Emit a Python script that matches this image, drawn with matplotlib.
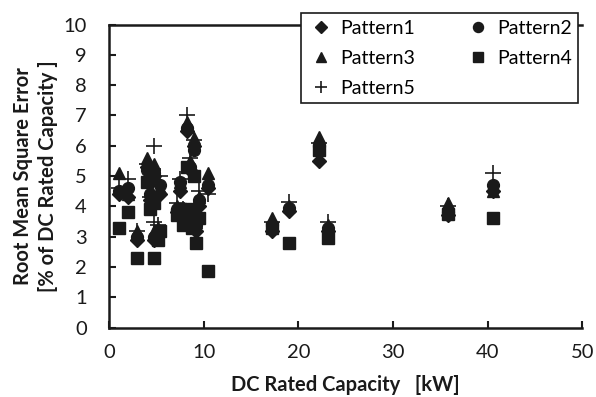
import matplotlib
matplotlib.use("Agg")
import matplotlib.pyplot as plt

# DC rated capacity of each site [kW]
capacity = [1.0, 2.0, 3.0, 4.0, 4.3, 4.7, 4.8, 5.2, 5.4, 7.2, 7.5, 7.8, 8.2, 8.5,
            8.8, 9.0, 9.2, 9.5, 10.5, 17.2, 19.0, 22.2, 23.1, 35.8, 40.6]

# RMSE [% of DC rated capacity] for each pattern
pattern1 = [4.4, 4.3, 2.9, 5.3, 4.2, 5.0, 2.9, 3.1, 4.4, 3.8, 4.5, 3.6, 6.5, 5.2,
            3.5, 6.0, 3.2, 4.0, 4.6, 3.2, 3.85, 5.5, 3.2, 3.7, 4.5]
pattern2 = [4.5, 4.6, 3.0, 5.2, 4.4, 5.1, 3.0, 3.2, 4.7, 3.9, 4.8, 3.7, 6.6, 5.3,
            3.6, 5.85, 3.4, 4.2, 4.7, 3.4, 3.95, 6.0, 3.3, 3.8, 4.7]
pattern3 = [5.1, 4.4, 3.2, 5.6, 4.5, 5.4, 3.2, 3.3, 4.6, 4.0, 4.8, 3.8, 6.8, 5.5,
            3.7, 6.25, 3.5, 4.3, 5.1, 3.6, 4.0, 6.3, 3.4, 4.1, 4.5]
pattern4 = [3.3, 3.8, 2.3, 4.8, 3.9, 4.1, 2.3, 2.9, 3.2, 3.7, 3.9, 3.4, 5.3, 3.9,
            3.3, 5.0, 2.8, 3.6, 1.85, 3.3, 2.8, 5.85, 2.95, 3.75, 3.6]
pattern5 = [4.6, 4.9, 3.2, 5.4, 4.3, 6.0, 3.5, 3.4, 5.0, 4.1, 4.9, 3.9, 7.0, 5.6,
            3.8, 6.2, 3.6, 4.5, 4.4, 3.5, 4.15, 6.1, 3.5, 4.0, 5.1]

plt.rcParams['font.family'] = ['Lato', 'DejaVu Sans']

fig = plt.figure(figsize=(5.96, 3.97), dpi=100)
ax = fig.add_axes([0.183, 0.175, 0.794, 0.763])

k = dict(color='#1a1a1a', linestyle='none')
h1, = ax.plot(capacity, pattern1, marker='D', ms=7, label='Pattern1', **k)
h2, = ax.plot(capacity, pattern2, marker='o', ms=8.5, label='Pattern2', **k)
h3, = ax.plot(capacity, pattern3, marker='^', ms=9, label='Pattern3', **k)
h4, = ax.plot(capacity, pattern4, marker='s', ms=9, label='Pattern4', **k)
h5, = ax.plot(capacity, pattern5, marker='+', ms=11, mew=1.2, label='Pattern5', **k)

ax.set_xlim(0, 50)
ax.set_ylim(0, 10)
ax.set_xticks(range(0, 51, 10))
ax.set_yticks(range(0, 11))
ax.tick_params(direction='in', length=5, width=1.5, labelsize=14.5, colors='#1a1a1a', pad=12)
ax.tick_params(axis='y', pad=16)
for s in ['left', 'bottom', 'top']:
    ax.spines[s].set_linewidth(1.8)
    ax.spines[s].set_color('#1a1a1a')
ax.spines['right'].set_visible(False)

ax.set_xlabel('DC Rated Capacity   [kW]', fontsize=14.5, fontweight='bold', color='#1a1a1a', labelpad=10)
ax.set_ylabel('Root Mean Square Error\n[% of DC Rated Capacity ]', fontsize=14.5,
              fontweight='bold', color='#1a1a1a', linespacing=1.3)
ax.yaxis.set_label_coords(-0.108, 0.5)

leg = fig.legend([h1, h3, h5, h2, h4], ['Pattern1', 'Pattern3', 'Pattern5', 'Pattern2', 'Pattern4'],
                 ncol=2, loc='upper right', bbox_to_anchor=(0.97, 0.967),
                 fontsize=14, frameon=True, fancybox=False, handlelength=1.4,
                 handletextpad=0.3, columnspacing=2.5, labelspacing=0.67,
                 borderpad=0.33, borderaxespad=0, markerscale=0.85)
leg.get_frame().set_edgecolor('#1a1a1a')
leg.get_frame().set_linewidth(1.2)
leg.get_frame().set_alpha(1)

fig.savefig('out.png', dpi=100)
